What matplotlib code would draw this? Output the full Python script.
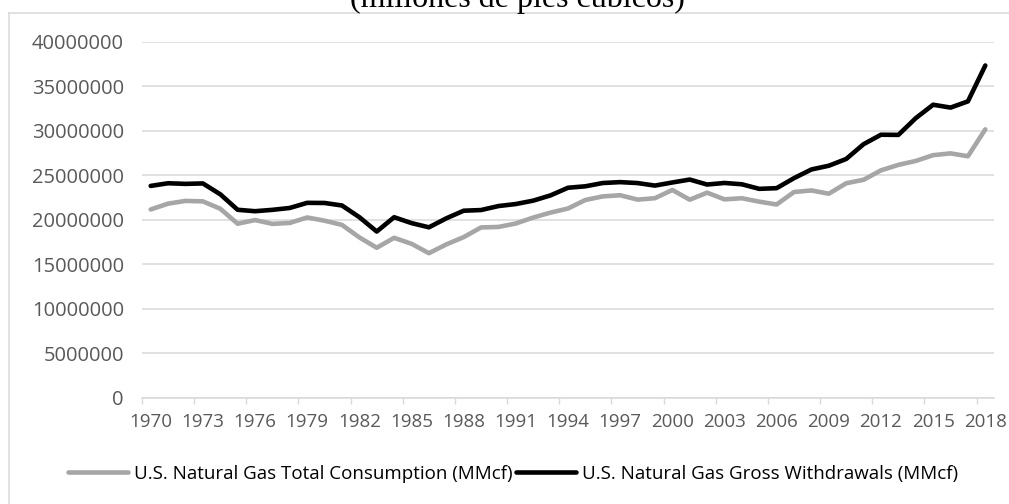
import numpy as np
from matplotlib import pyplot as plt, rcParams
from matplotlib.lines import Line2D
from matplotlib.ticker import FixedLocator, FuncFormatter

rcParams['font.family'] = ['Open Sans', 'DejaVu Sans']

# Data (MMcf)
years = list(range(1970, 2019))
consumption = [
    21139386, 21793454, 22101452, 22049363, 21223133, 19537593, 19946496,
    19520581, 19627478, 20240761, 19877293, 19403858, 18001055, 16834912,
    17950528, 17281177, 16221296, 17210809, 18030420, 19118632, 19173556,
    19562067, 20228236, 20789738, 21247095, 22207467, 22609071, 22737342,
    22245956, 22405151, 23333121, 22238624, 23027021, 22276502, 22402546,
    22014434, 21699071, 23103793, 23277008, 22910078, 24086797, 24477425,
    25538487, 26155071, 26593375, 27244326, 27444968, 27121676, 30148024]
withdrawals = [
    23786453, 24087508, 24016108, 24067202, 22849725, 21103983, 20943566,
    21097595, 21309213, 21883422, 21869849, 21586870, 20272072, 18659106,
    20267002, 19607242, 19131046, 20140238, 20999217, 21074106, 21522629,
    21750108, 22132249, 22725642, 23580706, 23743628, 24113634, 24213288,
    24108312, 23823490, 24174090, 24500976, 23941328, 24119258, 23970287,
    23456822, 23535018, 24663759, 25636257, 26056893, 26816085, 28479026,
    29542313, 29522551, 31405381, 32914647, 32591578, 33291647, 37325599]
series_names = ["U.S. Natural Gas Total Consumption (MMcf)",
                "U.S. Natural Gas Gross Withdrawals (MMcf)"]
title = "(millones de pies cúbicos)"
y_ticks = list(range(0, 40000001, 5000000))
x_tick_years = years[::3]

GRID = '#D9D9D9'
TEXT = '#595959'
W, H = 1009, 504

fig = plt.figure(figsize=(W / 100, H / 100), dpi=100)
ax = fig.add_axes([142 / W, 1 - 397.5 / H, (994 - 142) / W, (397.5 - 41.7) / H])

l1, = ax.plot(years, consumption, color='#A6A6A6', lw=3.3, solid_capstyle='round',
              solid_joinstyle='round', label=series_names[0], zorder=3)
l2, = ax.plot(years, withdrawals, color='black', lw=3.3, solid_capstyle='round',
              solid_joinstyle='round', label=series_names[1], zorder=4)

ax.set_xlim(years[0] - 0.5, years[-1] + 0.5)
ax.set_ylim(0, 40000000)

ax.set_yticks(y_ticks)
ax.yaxis.set_major_formatter(FuncFormatter(lambda v, p: f"{int(v)}"))
ax.set_xticks(x_tick_years)
ax.xaxis.set_minor_locator(FixedLocator([y - 0.5 for y in x_tick_years]))

ax.tick_params(axis='y', length=0, pad=13, labelsize=14.5, labelcolor=TEXT)
ax.tick_params(axis='x', which='major', length=0, pad=11, labelsize=13.5, labelcolor=TEXT)
ax.tick_params(axis='x', which='minor', length=4.5, width=1, color=GRID)

ax.grid(axis='y', color=GRID, lw=1.1, zorder=0)
for s in ['top', 'right', 'left']:
    ax.spines[s].set_visible(False)
ax.spines['bottom'].set_color(GRID)
ax.spines['bottom'].set_linewidth(1.1)

# Chart-area border (only top and left edges fall inside the image)
fig.add_artist(Line2D([9 / W, 9 / W], [0, 1 - 13 / H], transform=fig.transFigure,
                      color=GRID, lw=1.1))
fig.add_artist(Line2D([9 / W, 1], [1 - 13 / H, 1 - 13 / H], transform=fig.transFigure,
                      color=GRID, lw=1.1))

fig.text(517 / W, 1 - 7 / H, title, ha='center', va='baseline',
         family='Liberation Serif', fontsize=23, color='black')

fig.legend(handles=[l1, l2], loc='center', bbox_to_anchor=(513 / W, 1 - 474 / H),
           ncol=2, frameon=False, fontsize=13.5, labelcolor='black',
           handlelength=3.2, handletextpad=0.3, columnspacing=0.2)

fig.savefig('out.png', dpi=100)
